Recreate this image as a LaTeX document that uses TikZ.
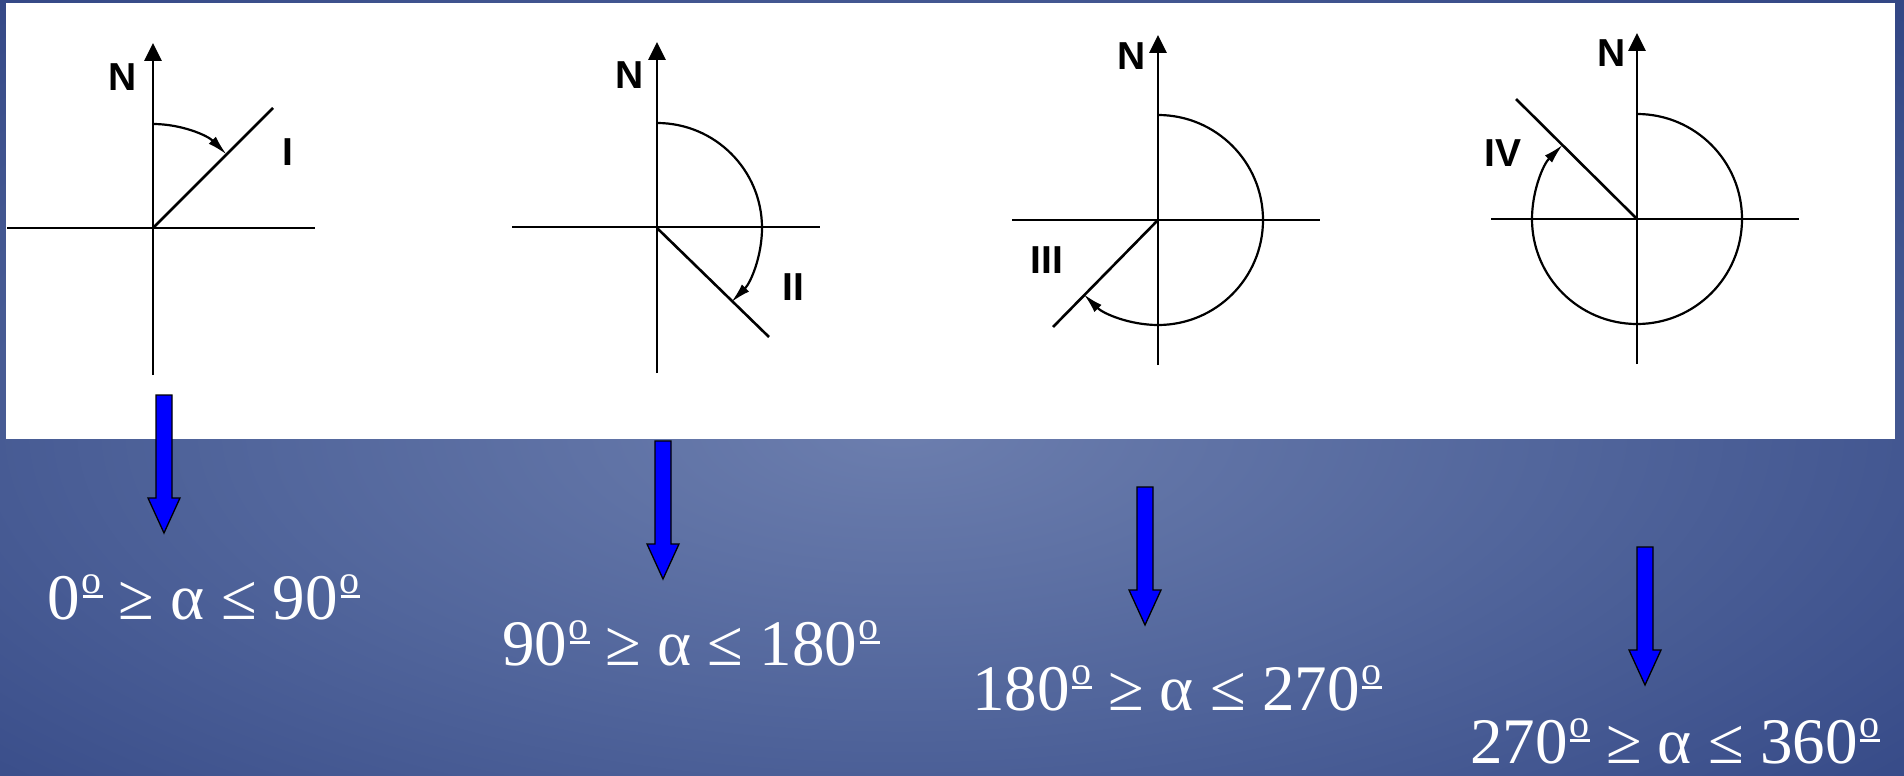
\documentclass[tikz,border=0pt]{standalone}
\usepackage{fontspec}
\setmainfont{Liberation Serif}
\newfontfamily\labelfont{Liberation Sans}
\usetikzlibrary{arrows.meta}
\definecolor{bgA}{RGB}{108,126,174}
\definecolor{bgB}{RGB}{82,102,156}
\definecolor{bgC}{RGB}{52,72,134}
\definecolor{bgD}{RGB}{32,52,116}
\definecolor{bgE}{RGB}{18,34,100}
\pgfdeclareradialshading{bgshade}{\pgfpoint{0bp}{0bp}}{color(0bp)=(bgA); color(16bp)=(bgB); color(34bp)=(bgC); color(52bp)=(bgD); color(71bp)=(bgE)}
\newcommand\ordo{\makebox[0.34em][l]{\hspace{0.02em}\raisebox{0.40em}{\fontsize{40}{40}\selectfont o}}\llap{\rule[0.33em]{0.30em}{0.035em}}}
\tikzset{
  naxis/.style={line width=2.8pt, -{Triangle[length=18pt,width=17pt]}},
  haxis/.style={line width=2.5pt},
  thinaxis/.style={line width=1.7pt},
  ray/.style={line width=2.6pt},
  turn/.style={line width=2.2pt, -{Latex[length=20pt,width=10pt]}},
  nlabel/.style={font=\labelfont\bfseries\fontsize{39}{39}\selectfont, inner sep=0pt},
  rangetext/.style={text=white, font=\fontsize{65}{70}\selectfont, inner sep=0pt, anchor=base},
  bluearrow/.pic={\path[draw=black, fill=blue, line width=1.3pt, line join=miter]
     (-8,0) -- (8,0) -- (8,-103) -- (16,-103) -- (0,-138) -- (-16,-103) -- (-8,-103) -- cycle;}
}
\begin{document}
\begin{tikzpicture}[x=1pt,y=1pt]
\useasboundingbox (0,0) rectangle (1904,-776);
\begin{scope}
  \clip (0,0) rectangle (1904,-776);
  \shade[shading=bgshade] (-104,0) rectangle (1904,-860);
\end{scope}
\fill[white] (6,-3) rectangle (1895,-439);

% ---- diagram I
\coordinate (o1) at (153,-228);
\coordinate (s1) at (153,-375);
\coordinate (n1) at (153,-43);
\coordinate (w1) at (7,-228);
\coordinate (e1) at (315,-228);
\coordinate (r1) at (273,-108);
\draw[naxis] (s1) -- (n1);
\draw[haxis] (w1) -- (e1);
\draw[ray] (o1) -- (r1);
\draw[turn] (153,-124) arc[start angle=90, end angle=45, radius=104];
\node[nlabel] (N1) at (123,-77) {N};
\node[nlabel] (L1) at (288,-152) {I};

% ---- diagram II
\coordinate (o2) at (657,-228);
\coordinate (s2) at (657,-373);
\coordinate (n2) at (657,-42);
\coordinate (w2) at (512,-227);
\coordinate (e2) at (820,-227);
\coordinate (r2) at (769,-337);
\draw[naxis] (s2) -- (n2);
\draw[haxis] (w2) -- (e2);
\draw[ray] (o2) -- (r2);
\draw[turn] (657,-123) arc[start angle=90, end angle=-45, radius=105];
\node[nlabel] (N2) at (630,-75) {N};
\node[nlabel] (L2) at (793,-287) {II};

% ---- diagram III
\coordinate (o3) at (1158,-220);
\coordinate (s3) at (1158,-365);
\coordinate (n3) at (1158,-35);
\coordinate (w3) at (1012,-220);
\coordinate (e3) at (1320,-220);
\coordinate (r3) at (1053,-327);
\draw[naxis] (s3) -- (n3);
\draw[thinaxis] (w3) -- (e3);
\draw[ray] (o3) -- (r3);
\draw[turn] (1158,-115) arc[start angle=90, end angle=-135, radius=105];
\node[nlabel] (N3) at (1132,-56) {N};
\node[nlabel] (L3) at (1047,-260) {III};

% ---- diagram IV
\coordinate (o4) at (1637,-219);
\coordinate (s4) at (1637,-364);
\coordinate (n4) at (1637,-33);
\coordinate (w4) at (1491,-219);
\coordinate (e4) at (1799,-219);
\coordinate (r4) at (1516,-99);
\draw[naxis] (s4) -- (n4);
\draw[thinaxis] (w4) -- (e4);
\draw[ray] (o4) -- (r4);
\draw[turn] (1637,-114) arc[start angle=90, end angle=-225, radius=105];
\node[nlabel] (N4) at (1612,-53) {N};
\node[nlabel] (L4) at (1503,-153) {IV};

% ---- blue arrows
\coordinate (a1) at (164,-395);
\coordinate (a2) at (663,-441);
\coordinate (a3) at (1145,-487);
\coordinate (a4) at (1645,-547);
\pic at (a1) {bluearrow};
\pic at (a2) {bluearrow};
\pic at (a3) {bluearrow};
\pic at (a4) {bluearrow};

% ---- ranges
\node[rangetext] (t1) at (204,-619) {0\ordo{} ≥ α ≤ 90\ordo};
\node[rangetext] (t2) at (691,-665) {90\ordo{} ≥ α ≤ 180\ordo};
\node[rangetext] (t3) at (1177,-710) {180\ordo{} ≥ α ≤ 270\ordo};
\node[rangetext] (t4) at (1675,-763) {270\ordo{} ≥ α ≤ 360\ordo};
\end{tikzpicture}
\end{document}
